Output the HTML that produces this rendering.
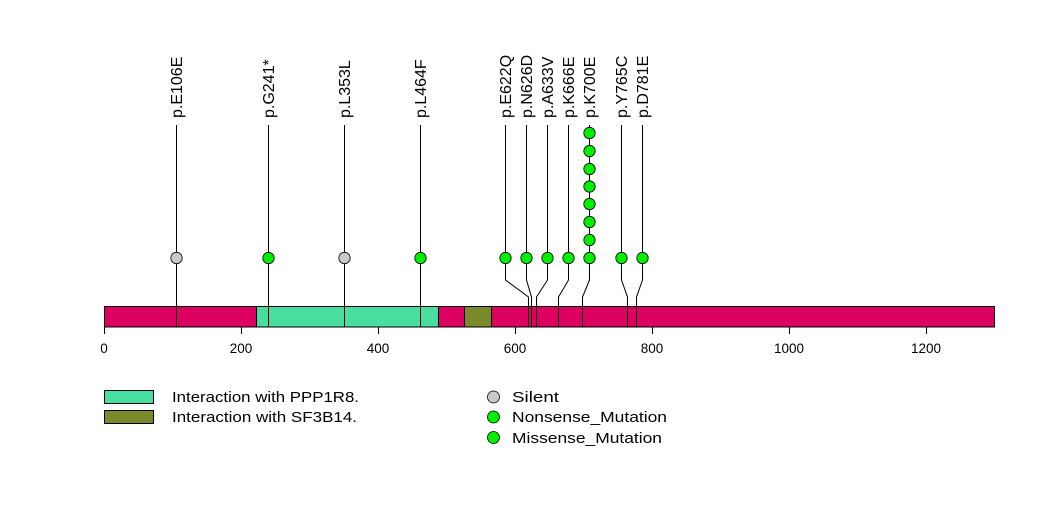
<!DOCTYPE html>
<html><head><meta charset="utf-8"><style>body{margin:0;background:#fff}svg{display:block}text{font-family:"Liberation Sans",sans-serif}</style></head><body>
<svg width="1047" height="524" viewBox="0 0 1047 524" xmlns="http://www.w3.org/2000/svg">
<rect width="1047" height="524" fill="#fff"/>
<g stroke="#000" stroke-width="1" fill="none">
<line x1="176.5" y1="125" x2="176.5" y2="327"/>
<line x1="268.5" y1="125" x2="268.5" y2="327"/>
<line x1="344.5" y1="125" x2="344.5" y2="327"/>
<line x1="420.5" y1="125" x2="420.5" y2="327"/>
<polyline points="505.5,125 505.5,280 528.5,297 528.5,327"/>
<polyline points="526.5,125 526.5,280 531.5,297 531.5,327"/>
<polyline points="547.5,125 547.5,280 536.5,297 536.5,327"/>
<polyline points="568.5,125 568.5,280 558.5,297 558.5,327"/>
<polyline points="589.5,125 589.5,280 582.5,297 582.5,327"/>
<polyline points="621.5,125 621.5,280 627.5,297 627.5,327"/>
<polyline points="642.5,125 642.5,280 636.5,297 636.5,327"/>
</g>
<rect x="104.5" y="306.5" width="890" height="20.5" fill="#dc0060" stroke="#000"/>
<rect x="256.5" y="306.5" width="182" height="20.5" fill="#48dea0" stroke="#000"/>
<rect x="464.5" y="306.5" width="27" height="20.5" fill="#7a8a2a" stroke="#000"/>
<g stroke="#000">
<line x1="176.5" y1="306" x2="176.5" y2="327"/><line x1="344.5" y1="306" x2="344.5" y2="327"/><line x1="420.5" y1="306" x2="420.5" y2="327"/><line x1="268.5" y1="306" x2="268.5" y2="327"/>
<line x1="528.5" y1="306" x2="528.5" y2="327"/><line x1="531.5" y1="306" x2="531.5" y2="327"/><line x1="536.5" y1="306" x2="536.5" y2="327"/><line x1="558.5" y1="306" x2="558.5" y2="327"/><line x1="582.5" y1="306" x2="582.5" y2="327"/><line x1="627.5" y1="306" x2="627.5" y2="327"/><line x1="636.5" y1="306" x2="636.5" y2="327"/>
<line x1="104.5" y1="327" x2="104.5" y2="334"/><line x1="241.5" y1="327" x2="241.5" y2="334"/><line x1="378.5" y1="327" x2="378.5" y2="334"/><line x1="515.5" y1="327" x2="515.5" y2="334"/><line x1="652.5" y1="327" x2="652.5" y2="334"/><line x1="789.5" y1="327" x2="789.5" y2="334"/><line x1="926.5" y1="327" x2="926.5" y2="334"/>
</g>
<g font-size="13.5" text-anchor="middle" fill="#000">
<text x="104" y="353">0</text><text x="241" y="353">200</text><text x="378" y="353">400</text><text x="515" y="353">600</text><text x="652" y="353">800</text><text x="789" y="353">1000</text><text x="926" y="353">1200</text>
</g>
<g stroke="#000" stroke-width="0.8">
<circle cx="176.5" cy="258" r="5.7" fill="#c8c8c8"/>
<circle cx="268.5" cy="258" r="5.7" fill="#00ee00"/>
<circle cx="344.5" cy="258" r="5.7" fill="#c8c8c8"/>
<circle cx="420.5" cy="258" r="5.7" fill="#00ee00"/>
<circle cx="505.5" cy="258" r="5.7" fill="#00ee00"/>
<circle cx="526.5" cy="258" r="5.7" fill="#00ee00"/>
<circle cx="547.5" cy="258" r="5.7" fill="#00ee00"/>
<circle cx="568.5" cy="258" r="5.7" fill="#00ee00"/>
<circle cx="589.5" cy="258" r="5.7" fill="#00ee00"/>
<circle cx="589.5" cy="240" r="5.7" fill="#00ee00"/>
<circle cx="589.5" cy="222" r="5.7" fill="#00ee00"/>
<circle cx="589.5" cy="204" r="5.7" fill="#00ee00"/>
<circle cx="589.5" cy="186.5" r="5.7" fill="#00ee00"/>
<circle cx="589.5" cy="169" r="5.7" fill="#00ee00"/>
<circle cx="589.5" cy="151" r="5.7" fill="#00ee00"/>
<circle cx="589.5" cy="133" r="5.7" fill="#00ee00"/>
<circle cx="621.5" cy="258" r="5.7" fill="#00ee00"/>
<circle cx="642.5" cy="258" r="5.7" fill="#00ee00"/>
</g>
<g font-size="16" text-anchor="start" fill="#000">
<text transform="translate(182,118) rotate(-90)">p.E106E</text>
<text transform="translate(274,118) rotate(-90)">p.G241*</text>
<text transform="translate(350,118) rotate(-90)">p.L353L</text>
<text transform="translate(426,118) rotate(-90)">p.L464F</text>
<text transform="translate(511,118) rotate(-90)">p.E622Q</text>
<text transform="translate(532,118) rotate(-90)">p.N626D</text>
<text transform="translate(553,118) rotate(-90)">p.A633V</text>
<text transform="translate(574,118) rotate(-90)">p.K666E</text>
<text transform="translate(595,118) rotate(-90)">p.K700E</text>
<text transform="translate(627,118) rotate(-90)">p.Y765C</text>
<text transform="translate(648,118) rotate(-90)">p.D781E</text>
</g>
<rect x="104.5" y="390.5" width="49" height="13" fill="#48dea0" stroke="#000"/>
<rect x="104.5" y="410.5" width="49" height="13" fill="#7a8a2a" stroke="#000"/>
<g font-size="15" fill="#000" lengthAdjust="spacingAndGlyphs">
<text x="172" y="402" textLength="187" lengthAdjust="spacingAndGlyphs">Interaction with PPP1R8.</text>
<text x="172" y="422" textLength="185" lengthAdjust="spacingAndGlyphs">Interaction with SF3B14.</text>
<text x="512" y="402" textLength="47" lengthAdjust="spacingAndGlyphs">Silent</text>
<text x="512" y="422" textLength="155" lengthAdjust="spacingAndGlyphs">Nonsense_Mutation</text>
<text x="512" y="443" textLength="150" lengthAdjust="spacingAndGlyphs">Missense_Mutation</text>
</g>
<g stroke="#000" stroke-width="0.8">
<circle cx="493.5" cy="397" r="6" fill="#c8c8c8"/>
<circle cx="493.5" cy="417" r="6" fill="#00ee00"/>
<circle cx="493.5" cy="437.5" r="6" fill="#00ee00"/>
</g>
</svg>
</body></html>
